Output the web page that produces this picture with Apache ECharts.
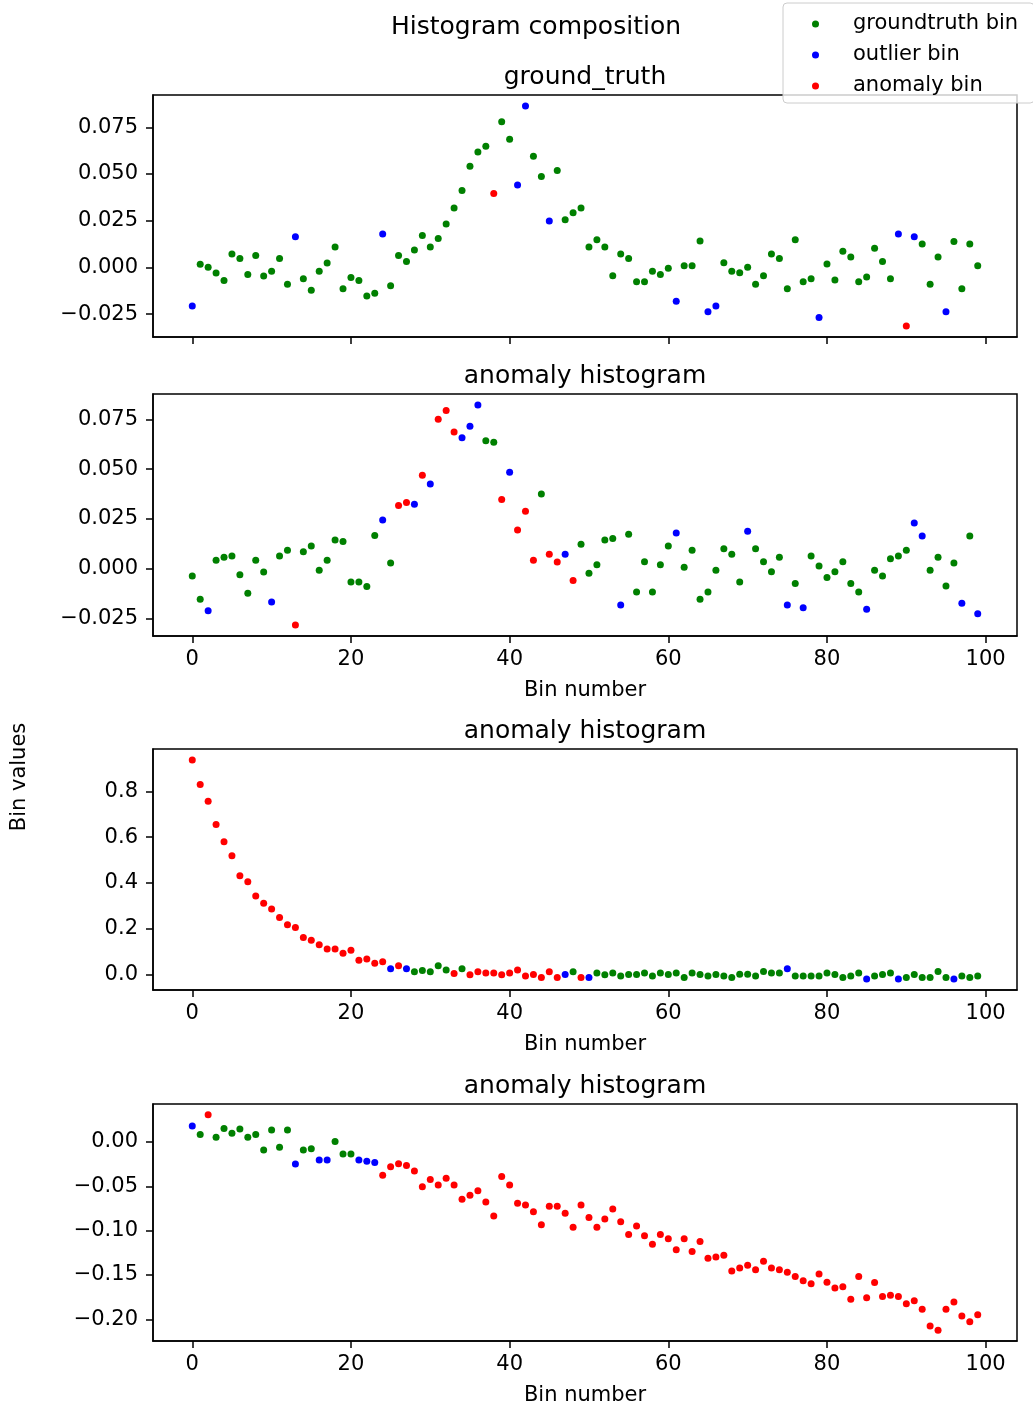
<!DOCTYPE html>
<html>
<head>
<meta charset="utf-8">
<title>Histogram composition</title>
<script src="https://cdn.jsdelivr.net/npm/echarts@6/dist/echarts.min.js"></script>
<style>
  html, body { margin: 0; padding: 0; background: #fff; }
  #chart { width: 1033px; height: 1407px; }
</style>
</head>
<body>
<div id="chart"></div>
<script>
// bin kinds: g = groundtruth bin, o = outlier bin, a = anomaly bin (one letter per bin, 10 per group)
const groundTruthKinds = 'oggggggggg gggogggggg ggggoggggg ggggggggag googgogggg gggggggggg gogggooggg gggggggggo gggggggggo aogggogggg'
const spikeKinds = 'ggoggggggg oggagggggg ggggogaaoa oaaaooogga oaaagaaoag ggggoggggg gogggggggg oggggogogg gggggogggg googgggogo'
const decayKinds = 'aaaaaaaaaa aaaaaaaaaa aaaaaoaogg gggagaaaaa aaaaaaaoga oggggggggg gggggggggg gggggogggg gggggogggo ggggggoggg'
const driftKinds = 'ogaggggggg gggoggoogg goooaaaaaa aaaaaaaaaa aaaaaaaaaa aaaaaaaaaa aaaaaaaaaa aaaaaaaaaa aaaaaaaaaa aaaaaaaaaa'

const groundTruthValues = [
  -0.0207, 0.0016, 0.0000, -0.0030, -0.0070, 0.0071, 0.0048, -0.0038, 0.0063, -0.0046,
  -0.0021, 0.0048, -0.0091, 0.0164, -0.0061, -0.0123, -0.0021, 0.0023, 0.0109, -0.0114,
  -0.0054, -0.0070, -0.0154, -0.0138, 0.0179, -0.0098, 0.0063, 0.0032, 0.0093, 0.0171,
  0.0109, 0.0155, 0.0232, 0.0318, 0.0411, 0.0541, 0.0618, 0.0648, 0.0395, 0.0779,
  0.0686, 0.0441, 0.0864, 0.0595, 0.0486, 0.0248, 0.0518, 0.0255, 0.0293, 0.0318,
  0.0109, 0.0148, 0.0109, -0.0045, 0.0071, 0.0048, -0.0077, -0.0077, -0.0021, -0.0038,
  -0.0005, -0.0182, 0.0009, 0.0009, 0.0141, -0.0238, -0.0207, 0.0025, -0.0021, -0.0029,
  0.0000, -0.0091, -0.0045, 0.0071, 0.0048, -0.0114, 0.0148, -0.0077, -0.0061, -0.0268,
  0.0018, -0.0068, 0.0086, 0.0055, -0.0077, -0.0052, 0.0102, 0.0032, -0.0061, 0.0179,
  -0.0314, 0.0164, 0.0125, -0.0091, 0.0055, -0.0238, 0.0139, -0.0114, 0.0125, 0.0009
]
const spikeValues = [
  -0.0037, -0.0154, -0.0211, 0.0042, 0.0057, 0.0064, -0.0030, -0.0124, 0.0042, -0.0017,
  -0.0168, 0.0064, 0.0092, -0.0283, 0.0085, 0.0114, -0.0008, 0.0042, 0.0144, 0.0136,
  -0.0067, -0.0067, -0.0089, 0.0166, 0.0245, 0.0028, 0.0317, 0.0332, 0.0323, 0.0469,
  0.0425, 0.0750, 0.0794, 0.0687, 0.0657, 0.0715, 0.0822, 0.0643, 0.0635, 0.0347,
  0.0484, 0.0194, 0.0288, 0.0042, 0.0375, 0.0072, 0.0034, 0.0072, -0.0059, 0.0122,
  -0.0023, 0.0020, 0.0144, 0.0151, -0.0183, 0.0173, -0.0117, 0.0035, -0.0117, 0.0020,
  0.0114, 0.0179, 0.0007, 0.0092, -0.0154, -0.0117, -0.0008, 0.0100, 0.0072, -0.0067,
  0.0188, 0.0100, 0.0035, -0.0015, 0.0057, -0.0183, -0.0074, -0.0196, 0.0064, 0.0013,
  -0.0045, -0.0015, 0.0035, -0.0074, -0.0117, -0.0204, -0.0008, -0.0037, 0.0050, 0.0064,
  0.0092, 0.0229, 0.0164, -0.0008, 0.0057, -0.0087, 0.0028, -0.0174, 0.0164, -0.0226
]
const decayValues = [
  0.937, 0.830, 0.757, 0.655, 0.580, 0.519, 0.431, 0.405, 0.343, 0.311,
  0.286, 0.249, 0.217, 0.205, 0.162, 0.149, 0.130, 0.111, 0.111, 0.093,
  0.106, 0.062, 0.068, 0.049, 0.056, 0.025, 0.038, 0.025, 0.012, 0.017,
  0.012, 0.038, 0.019, 0.004, 0.025, -0.001, 0.012, 0.006, 0.006, -0.001,
  0.006, 0.019, -0.007, 0.000, -0.013, 0.012, -0.013, 0.000, 0.012, -0.013,
  -0.013, 0.006, -0.001, 0.006, -0.007, 0.000, 0.000, 0.006, -0.007, 0.006,
  0.000, 0.006, -0.013, 0.006, 0.000, -0.007, 0.000, -0.007, -0.013, 0.001,
  0.001, -0.007, 0.013, 0.006, 0.006, 0.025, -0.007, -0.007, -0.007, -0.007,
  0.006, 0.000, -0.013, -0.007, 0.006, -0.020, -0.007, 0.000, 0.006, -0.020,
  -0.013, 0.000, -0.013, -0.013, 0.013, -0.013, -0.020, -0.007, -0.013, -0.007
]
const driftValues = [
  0.0180, 0.0085, 0.0306, 0.0052, 0.0151, 0.0099, 0.0147, 0.0052, 0.0085, -0.0092,
  0.0133, -0.0059, 0.0133, -0.0250, -0.0092, -0.0077, -0.0203, -0.0203, 0.0004, -0.0136,
  -0.0136, -0.0203, -0.0217, -0.0232, -0.0376, -0.0280, -0.0247, -0.0265, -0.0328, -0.0505,
  -0.0424, -0.0486, -0.0409, -0.0486, -0.0645, -0.0600, -0.0549, -0.0678, -0.0836, -0.0390,
  -0.0486, -0.0692, -0.0711, -0.0788, -0.0932, -0.0726, -0.0726, -0.0803, -0.0961, -0.0711,
  -0.0851, -0.0961, -0.0869, -0.0755, -0.0899, -0.1042, -0.0947, -0.1057, -0.1153, -0.1042,
  -0.1090, -0.1215, -0.1090, -0.1234, -0.1123, -0.1311, -0.1296, -0.1278, -0.1455, -0.1420,
  -0.1389, -0.1440, -0.1344, -0.1422, -0.1440, -0.1470, -0.1517, -0.1565, -0.1599, -0.1488,
  -0.1580, -0.1646, -0.1632, -0.1772, -0.1517, -0.1757, -0.1584, -0.1742, -0.1727, -0.1742,
  -0.1823, -0.1790, -0.1886, -0.2074, -0.2122, -0.1886, -0.1805, -0.1963, -0.2026, -0.1948
]

const binTicks = [0, 20, 40, 60, 80, 100]
const smallTicks = [-0.025, 0, 0.025, 0.05, 0.075]
const decayTicks = [0, 0.2, 0.4, 0.6, 0.8]
const driftTicks = [-0.2, -0.15, -0.1, -0.05, 0]

const kindNames = { g: 'groundtruth bin', o: 'outlier bin', a: 'anomaly bin' }
const kindColors = { g: '#008000', o: '#0000ff', a: '#ff0000' }

const font = 'DejaVu Sans'
const black = '#000'

const panels = [
  { title: 'ground_truth', values: groundTruthValues, kinds: groundTruthKinds, ticks: smallTicks, digits: 3, top: 95, height: 242, xLabels: false },
  { title: 'anomaly histogram', values: spikeValues, kinds: spikeKinds, ticks: smallTicks, digits: 3, top: 394, height: 242, xLabels: true },
  { title: 'anomaly histogram', values: decayValues, kinds: decayKinds, ticks: decayTicks, digits: 1, top: 749, height: 241, xLabels: true },
  { title: 'anomaly histogram', values: driftValues, kinds: driftKinds, ticks: driftTicks, digits: 2, top: 1104, height: 241, xLabels: true }
]

// matplotlib style 5% margins around the data
function padRange(arr) {
  const lo = Math.min(...arr)
  const hi = Math.max(...arr)
  const m = (hi - lo) * 0.05
  return [lo - m, hi + m]
}

function fmt(digits) {
  return v => (v < 0 ? '\u2212' : '') + Math.abs(v).toFixed(digits)
}

const chart = echarts.init(document.getElementById('chart'), null, { renderer: 'canvas' })

const grids = []
const xAxes = []
const yAxes = []
const series = []
const graphics = [
  { type: 'text', x: 536, y: 27, style: { text: 'Histogram composition', font: '25px "' + font + '"', fill: black, align: 'center', verticalAlign: 'middle' } },
  { type: 'text', x: 20, y: 777, rotation: Math.PI / 2, style: { text: 'Bin values', font: '21px "' + font + '"', fill: black, align: 'center', verticalAlign: 'middle' } }
]

panels.forEach((p, i) => {
  const kinds = p.kinds.replace(/ /g, '')
  const bins = p.values.map((v, k) => k)
  const xr = padRange(bins)
  const yr = padRange(p.values)

  grids.push({ left: 153, top: p.top, width: 864, height: p.height, show: true, borderColor: black, borderWidth: 1.5 })

  xAxes.push({
    type: 'value', gridIndex: i, min: xr[0], max: xr[1],
    axisLine: { show: true, onZero: false, lineStyle: { color: black, width: 1.5 } },
    axisTick: { show: true, customValues: binTicks, length: 7, lineStyle: { color: black, width: 1.5 } },
    axisLabel: { show: p.xLabels, customValues: binTicks, margin: 13, fontSize: 21, fontFamily: font, color: black },
    splitLine: { show: false },
    name: p.xLabels ? 'Bin number' : '',
    nameLocation: 'middle', nameGap: 44,
    nameTextStyle: { fontSize: 21, fontFamily: font, color: black }
  })

  yAxes.push({
    type: 'value', gridIndex: i, min: yr[0], max: yr[1],
    axisLine: { show: true, onZero: false, lineStyle: { color: black, width: 1.5 } },
    axisTick: { show: true, customValues: p.ticks, length: 7, lineStyle: { color: black, width: 1.5 } },
    axisLabel: { customValues: p.ticks, formatter: fmt(p.digits), margin: 15, fontSize: 21, fontFamily: font, color: black },
    splitLine: { show: false }
  })

  ;['g', 'o', 'a'].forEach(k => {
    series.push({
      type: 'scatter',
      name: kindNames[k],
      xAxisIndex: i,
      yAxisIndex: i,
      symbol: 'circle',
      symbolSize: 7,
      itemStyle: { color: kindColors[k], opacity: 1 },
      data: p.values.map((v, b) => kinds[b] === k ? [b, v] : null).filter(d => d)
    })
  })

  graphics.push({
    type: 'text', x: 585, y: p.top - 18,
    style: { text: p.title, font: '25px "' + font + '"', fill: black, align: 'center', verticalAlign: 'middle' }
  })
})

chart.setOption({
  animation: false,
  textStyle: { fontFamily: font },
  legend: {
    data: ['groundtruth bin', 'outlier bin', 'anomaly bin'],
    orient: 'vertical',
    left: 783,
    top: 3,
    icon: 'circle',
    itemWidth: 7,
    itemHeight: 7,
    itemGap: 7,
    padding: [9, 16, 5, 29],
    backgroundColor: 'rgba(255,255,255,0.8)',
    borderColor: '#cccccc',
    borderWidth: 1,
    borderRadius: 4,
    textStyle: { fontSize: 21, fontFamily: font, color: black, lineHeight: 24, padding: [0, 0, 0, 29] }
  },
  grid: grids,
  xAxis: xAxes,
  yAxis: yAxes,
  series: series,
  graphic: graphics
})
</script>
</body>
</html>
